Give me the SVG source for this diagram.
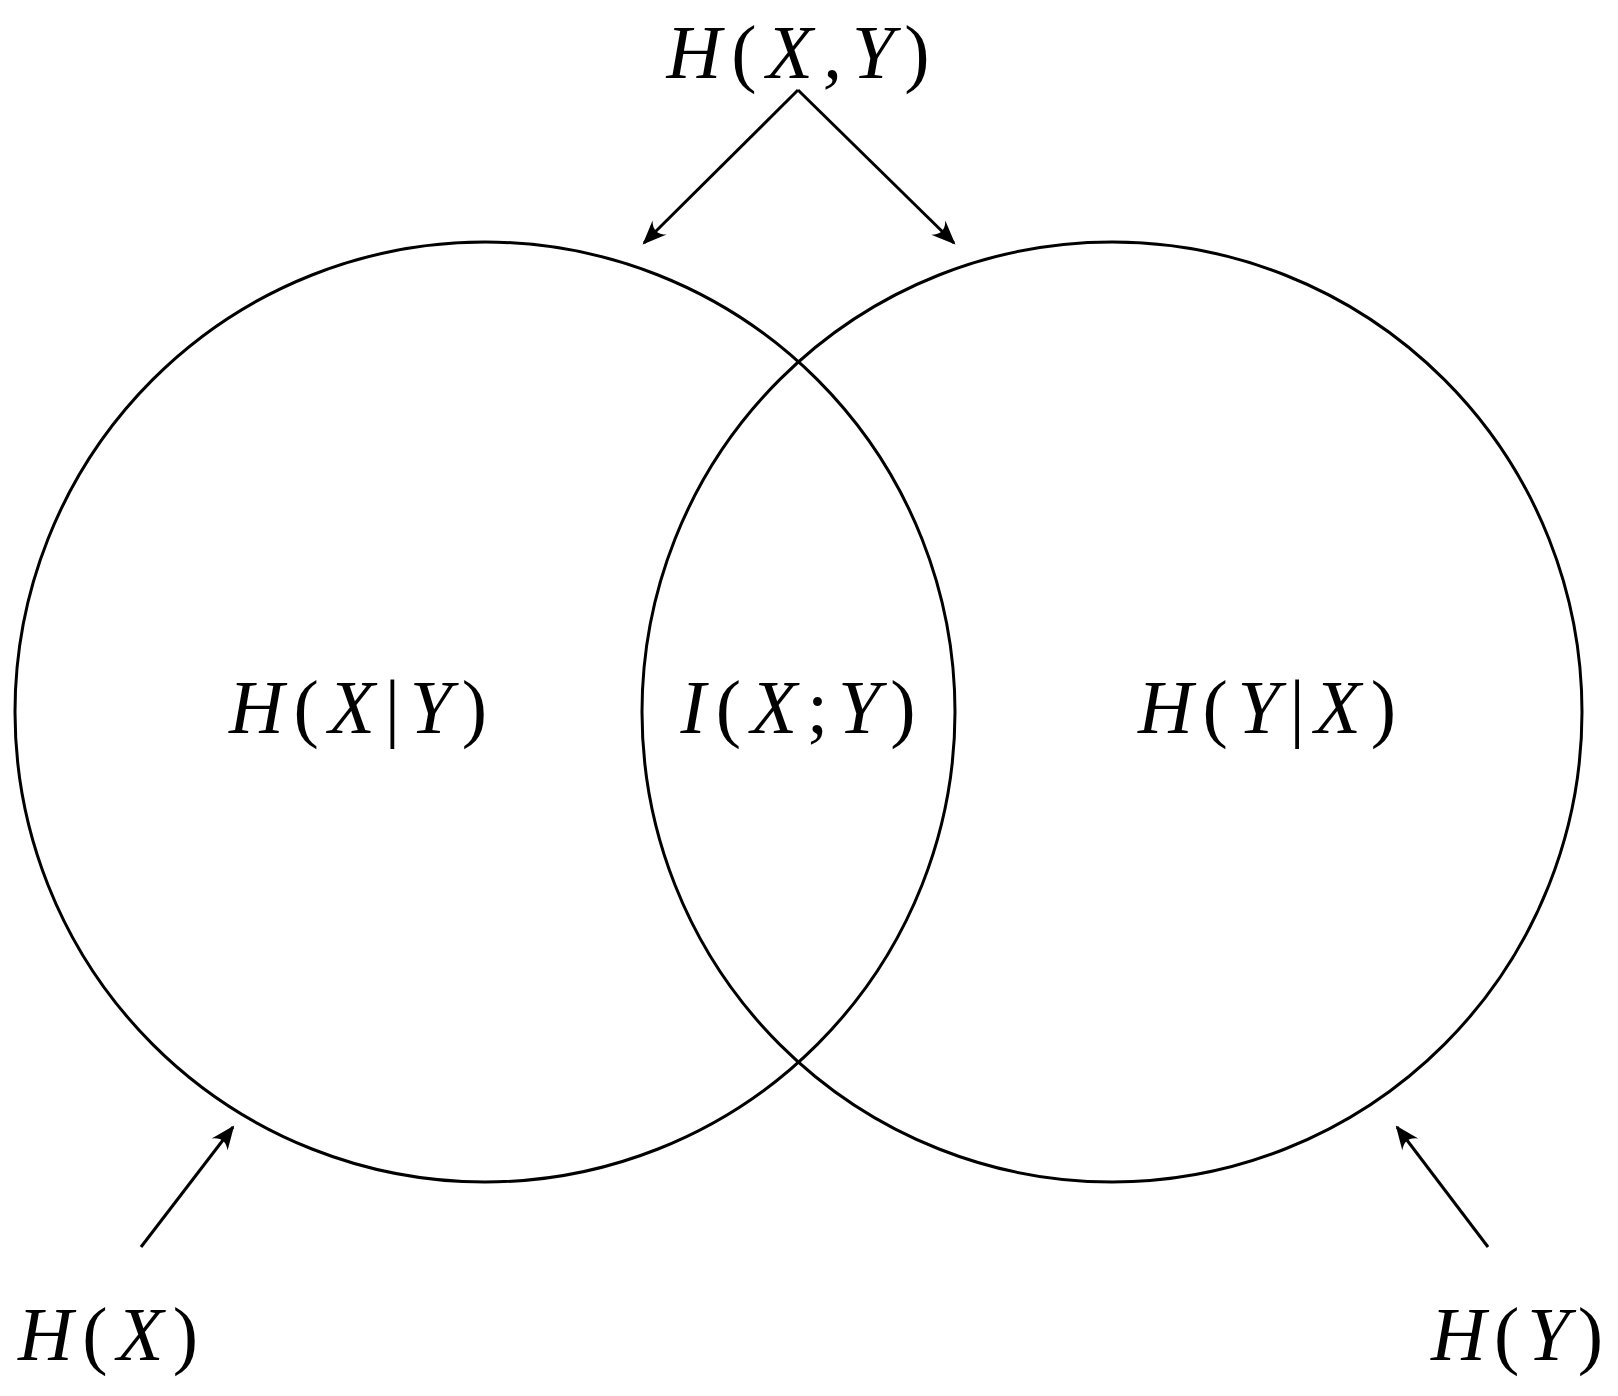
<svg xmlns="http://www.w3.org/2000/svg" width="1618" height="1396" viewBox="0 0 1618 1396">
<style>
.c{fill:none;stroke:#000;stroke-width:3}
.a{stroke:#000;stroke-width:3;fill:none;marker-end:url(#ah)}
text{font-family:"Liberation Serif","DejaVu Serif",serif;font-size:76px;fill:#000;text-anchor:middle}
.i{font-style:italic}
</style>
<defs>
<marker id="ah" viewBox="0 0 24 20" refX="22" refY="10" markerWidth="24" markerHeight="20" orient="auto" markerUnits="userSpaceOnUse" overflow="visible">
<path d="M0,0 Q10,10 0,20 L24,10 Z" fill="#000"/>
</marker>
</defs>
<rect width="1618" height="1396" fill="#fff"/>
<g id="circleX"><circle class="c" cx="485" cy="712" r="470"/></g>
<g id="circleY"><circle class="c" cx="1112" cy="712" r="470"/></g>
<g id="connectors">
<line class="a" x1="798" y1="90" x2="644" y2="243"/>
<line class="a" x1="798" y1="90" x2="954" y2="243"/>
<line class="a" x1="141" y1="1247" x2="233" y2="1127"/>
<line class="a" x1="1488" y1="1247" x2="1397" y2="1127"/>
</g>
<g id="HXY"><text x="798" y="78" textLength="263" lengthAdjust="spacing"><tspan class="i">H</tspan>(<tspan class="i">X,Y</tspan>)</text></g>
<g id="HXgY"><text x="358" y="733" textLength="258" lengthAdjust="spacing"><tspan class="i">H</tspan>(<tspan class="i">X</tspan>|<tspan class="i">Y</tspan>)</text></g>
<g id="IXY"><text x="798" y="733" textLength="235" lengthAdjust="spacing"><tspan class="i">I</tspan>(<tspan class="i">X</tspan>;<tspan class="i">Y</tspan>)</text></g>
<g id="HYgX"><text x="1267" y="733" textLength="258" lengthAdjust="spacing"><tspan class="i">H</tspan>(<tspan class="i">Y</tspan>|<tspan class="i">X</tspan>)</text></g>
<g id="HX"><text x="108" y="1360" textLength="180" lengthAdjust="spacing"><tspan class="i">H</tspan>(<tspan class="i">X</tspan>)</text></g>
<g id="HY"><text x="1517" y="1360" textLength="172" lengthAdjust="spacing"><tspan class="i">H</tspan>(<tspan class="i">Y</tspan>)</text></g>
</svg>
